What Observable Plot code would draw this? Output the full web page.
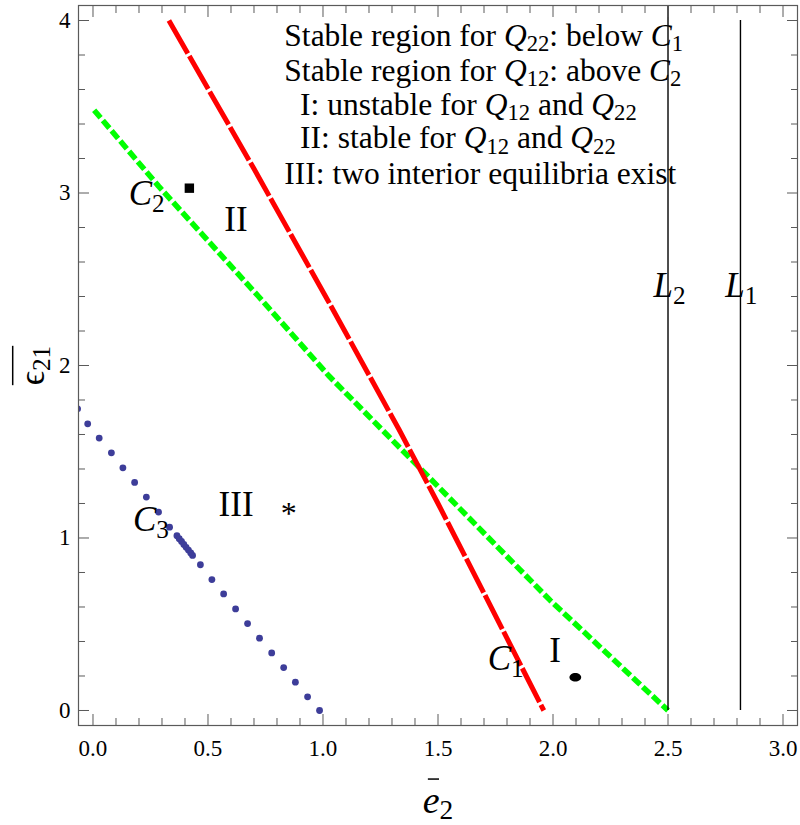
<!DOCTYPE html>
<html><head><meta charset="utf-8">
<script src="https://cdn.jsdelivr.net/npm/d3@7"></script>
<script src="https://cdn.jsdelivr.net/npm/@observablehq/plot@0.6"></script>
<style>body{margin:0;background:#fff}#chart{width:800px;height:825px}</style>
</head><body><div id="chart"></div>
<script>
// ---- data ----
const xMajor = [0, 0.5, 1, 1.5, 2, 2.5, 3];
const xMinor = [0.1,0.2,0.3,0.4,0.6,0.7,0.8,0.9,1.1,1.2,1.3,1.4,1.6,1.7,1.8,1.9,2.1,2.2,2.3,2.4,2.6,2.7,2.8,2.9];
const yMajor = [0, 1, 2, 3, 4];
const yMinor = [0.2,0.4,0.6,0.8,1.2,1.4,1.6,1.8,2.2,2.4,2.6,2.8,3.2,3.4,3.6,3.8];

// C1 (red, long dashes)
const c1X = [0.33, 0.70, 1.02, 1.33, 1.50, 1.70, 1.96];
const c1Y = [4.00, 3.14, 2.38, 1.63, 1.20, 0.68, 0.00];
// C2 (green, short dashes)
const c2X = [0.005, 0.285, 0.72, 1.024, 1.423, 1.988, 2.50];
const c2Y = [3.48, 3.04, 2.40, 1.942, 1.403, 0.638, 0.00];
// C3 (blue dots)
const c3X = [-0.067,-0.023,0.027,0.080,0.130,0.181,0.232,0.285,0.333,0.365,0.375,0.385,0.395,0.405,0.415,0.425,0.433,0.467,0.517,0.568,0.620,0.672,0.724,0.777,0.829,0.880,0.933,0.985];
const c3Y = [1.749,1.662,1.579,1.494,1.407,1.322,1.237,1.150,1.063,1.013,0.996,0.980,0.963,0.946,0.930,0.913,0.899,0.845,0.759,0.676,0.589,0.504,0.419,0.334,0.249,0.164,0.079,0.000];
// vertical lines L2, L1
const lX = [2.5, 2.815];
const lTop = [4.2, 4.0];
// equilibrium markers
const squareX = [0.419], squareY = [3.028];
const ellipseX = [2.097], ellipseY = [0.193];
const starX = [0.851], starY = [1.169];
// region / curve labels (left edge, baseline)
const labelText = ["$C$_{2}", "II", "$C$_{3}", "III", "$C$_{1}", "I", "$L$_{2}", "$L$_{1}"];
const labelX = [0.155, 0.571, 0.174, 0.546, 1.716, 1.984, 2.437, 2.749];
const labelY = [2.928, 2.777, 1.038, 1.125, 0.232, 0.284, 2.396, 2.396];
// legend block
const legendText = [
  "Stable region for $Q$_{22}: below $C$_{1}",
  "Stable region for $Q$_{12}: above $C$_{2}",
  "\u00a0\u00a0I: unstable for $Q$_{12} and $Q$_{22}",
  "\u00a0\u00a0II: stable for $Q$_{12} and $Q$_{22}",
  "III: two interior equilibria exist"
];
const legendX = [0.832, 0.832, 0.832, 0.832, 0.832];
const legendY = [3.855, 3.652, 3.455, 3.258, 3.055];
const xLabel = "‾{$e$}_{2}";
const yLabel = "‾{ϵ_{21}}";

// ---- build tables ----
const c1 = c1X.map((x, i) => ({x, y: c1Y[i]}));
const c2 = c2X.map((x, i) => ({x, y: c2Y[i]}));
const c3 = c3X.map((x, i) => ({x, y: c3Y[i]}));
const vlines = lX.map((x, i) => ({x, top: lTop[i]}));
const labels = labelText.map((t, i) => ({t, x: labelX[i], y: labelY[i]}));
const legend = legendText.map((t, i) => ({t, x: legendX[i], y: legendY[i]}));

const ellipseSymbol = {
  draw(ctx, size) {
    const r = Math.sqrt(size / Math.PI), rx = r * 1.37, ry = r, k = 0.5523;
    ctx.moveTo(rx, 0);
    ctx.bezierCurveTo(rx, ry * k, rx * k, ry, 0, ry);
    ctx.bezierCurveTo(-rx * k, ry, -rx, ry * k, -rx, 0);
    ctx.bezierCurveTo(-rx, -ry * k, -rx * k, -ry, 0, -ry);
    ctx.bezierCurveTo(rx * k, -ry, rx, -ry * k, rx, 0);
    ctx.closePath();
  }
};

const serif = "'Liberation Serif', 'DejaVu Serif', 'Times New Roman', serif";
const frameGray = "#5a5a5a";
const tickOpts = {tickFormat: () => "", label: null, stroke: frameGray};
const chart = Plot.plot({
  width: 800, height: 825,
  marginLeft: 78, marginRight: 3, marginTop: 5, marginBottom: 100,
  x: {domain: [-0.063, 3.063]},
  y: {domain: [-0.087, 4.087]},
  style: {fontFamily: serif, fontSize: "23px", background: "#fff", color: "#000"},
  marks: [
    Plot.line(c2, {x: "x", y: "y", stroke: "#00ff00", strokeWidth: 5.5, strokeDasharray: "10,3.5", strokeLinecap: "butt", clip: true}),
    Plot.line(c1, {x: "x", y: "y", stroke: "#ff0000", strokeWidth: 5, strokeDasharray: "38,3", strokeLinecap: "butt", clip: true}),
    Plot.ruleX(vlines, {x: "x", y1: 0, y2: "top", stroke: "#000", strokeWidth: 1.4, clip: true}),
    Plot.dot(c3, {x: "x", y: "y", r: 3.4, fill: "#3d3d99", stroke: null, clip: true}),
    Plot.dot(squareX.map((x, i) => ({x, y: squareY[i]})), {x: "x", y: "y", symbol: "square", r: 5.3, fill: "#000", stroke: null}),
    Plot.dot(ellipseX.map((x, i) => ({x, y: ellipseY[i]})), {x: "x", y: "y", symbol: ellipseSymbol, r: 4.3, fill: "#000", stroke: null}),
    Plot.text(starX.map((x, i) => ({x, y: starY[i]})), {x: "x", y: "y", text: () => "*", fontFamily: serif, fontSize: 32, lineAnchor: "bottom", textAnchor: "middle", dy: 15}),
    Plot.text(labels, {x: "x", y: "y", text: "t", fontFamily: serif, fontSize: 35, textAnchor: "start", lineAnchor: "bottom"}),
    Plot.text(legend, {x: "x", y: "y", text: "t", fontFamily: serif, fontSize: 31.5, textAnchor: "start", lineAnchor: "bottom"}),
    Plot.text([xLabel], {text: d => d, frameAnchor: "bottom", dy: 87, lineAnchor: "bottom", textAnchor: "middle", fontFamily: serif, fontSize: 38}),
    Plot.text([yLabel], {text: d => d, frameAnchor: "left", rotate: -90, dx: -35, lineAnchor: "bottom", textAnchor: "middle", fontFamily: serif, fontSize: 35}),
    // tick labels
    Plot.axisX({ticks: xMajor, anchor: "bottom", tickSize: 0, tickPadding: 14, tickFormat: d3.format(".1f"), label: null, fill: "#000", fontFamily: serif, fontSize: 23}),
    Plot.axisY({ticks: yMajor, anchor: "left", tickSize: 0, tickPadding: 8, tickFormat: d3.format("d"), label: null, fill: "#000", fontFamily: serif, fontSize: 23}),
    // inward ticks on all four sides
    Plot.axisX({ticks: xMajor, anchor: "bottom", tickSize: -11, ...tickOpts}),
    Plot.axisX({ticks: xMinor, anchor: "bottom", tickSize: -7, ...tickOpts}),
    Plot.axisX({ticks: xMajor, anchor: "top", tickSize: -11, ...tickOpts}),
    Plot.axisX({ticks: xMinor, anchor: "top", tickSize: -7, ...tickOpts}),
    Plot.axisY({ticks: yMajor, anchor: "left", tickSize: -11, ...tickOpts}),
    Plot.axisY({ticks: yMinor, anchor: "left", tickSize: -7, ...tickOpts}),
    Plot.axisY({ticks: yMajor, anchor: "right", tickSize: -11, ...tickOpts}),
    Plot.axisY({ticks: yMinor, anchor: "right", tickSize: -7, ...tickOpts}),
    Plot.frame({stroke: frameGray, strokeWidth: 1.2})
  ]
});
document.getElementById("chart").appendChild(chart);

// ---- rich text: $italic$, _{subscript}, ‾{overline} ----
const NS = "http://www.w3.org/2000/svg";
const SUB_SIZE = 0.72, SUB_SHIFT = 0.18, BAR_RISE = 0.88;
function plain(parent, text, ctx, fs, state) {
  const ts = document.createElementNS(NS, "tspan");
  const target = ctx.sub ? SUB_SHIFT * fs : 0;
  if (target !== state.shift) { ts.setAttribute("dy", (target - state.shift).toFixed(2)); state.shift = target; }
  if (ctx.italic) ts.setAttribute("font-style", "italic");
  if (ctx.sub) ts.setAttribute("font-size", (SUB_SIZE * fs).toFixed(1));
  ts.textContent = text;
  state.count += [...text].length;
  parent.appendChild(ts);
}
function build(parent, str, ctx, fs, state) {
  const re = /\$([^$]*)\$|_\{([^{}]*)\}|‾\{((?:[^{}]|\{[^{}]*\})*)\}/g;
  let last = 0, m;
  while ((m = re.exec(str))) {
    if (m.index > last) plain(parent, str.slice(last, m.index), ctx, fs, state);
    if (m[1] !== undefined) build(parent, m[1], {...ctx, italic: true}, fs, state);
    else if (m[2] !== undefined) build(parent, m[2], {...ctx, sub: true}, fs, state);
    else {
      const start = state.count;
      build(parent, m[3], ctx, fs, state);
      state.bars.push({start, end: state.count - 1});
    }
    last = re.lastIndex;
  }
  if (last < str.length) plain(parent, str.slice(last), ctx, fs, state);
}
chart.querySelectorAll("text").forEach(t => {
  const s = t.textContent;
  if (!/[$‾]|_\{/.test(s)) return;
  const fs = parseFloat(getComputedStyle(t).fontSize);
  while (t.firstChild) t.removeChild(t.firstChild);
  const state = {shift: 0, count: 0, bars: []};
  build(t, s, {italic: false, sub: false}, fs, state);
  for (const b of state.bars) {
    const p0 = t.getStartPositionOfChar(b.start);
    const p1 = t.getEndPositionOfChar(b.end);
    let x1 = p0.x, x2 = p1.x;
    if (b.end === b.start) { // single glyph: short, slightly right-shifted bar
      const w = x2 - x1, c = (x1 + x2) / 2 + 0.06 * fs;
      x1 = c - 0.33 * w; x2 = c + 0.33 * w;
    }
    const yb = p0.y - BAR_RISE * fs;
    const ln = document.createElementNS(NS, "line");
    ln.setAttribute("x1", x1); ln.setAttribute("x2", x2);
    ln.setAttribute("y1", yb); ln.setAttribute("y2", yb);
    ln.setAttribute("stroke", "#000"); ln.setAttribute("stroke-width", "1.5");
    const tr = t.getAttribute("transform");
    if (tr) ln.setAttribute("transform", tr);
    t.parentNode.insertBefore(ln, t.nextSibling);
  }
});
</script>
</body></html>
